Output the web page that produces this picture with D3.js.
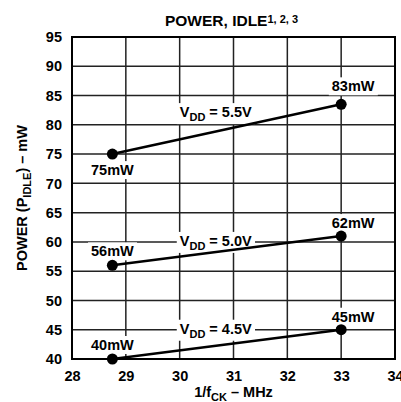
<!DOCTYPE html>
<html lang="en">
<head>
<meta charset="UTF-8">
<title>Power, Idle</title>
<script src="https://cdn.jsdelivr.net/npm/d3@7"></script>
<style>
  body { margin: 0; background: #fff; }
  text { font-family: "Liberation Sans", Arial, sans-serif; font-weight: bold; fill: #000; }
</style>
</head>
<body>
<div id="chart"></div>
<script>
// data
var clock = [28.75, 33];               // 1/fCK (MHz)
var supplies = ["4.5", "5.0", "5.5"];  // VDD
var power45 = [40, 45];
var power50 = [56, 61];
var power55 = [75, 83.5];
var labels45 = ["40mW", "45mW"];
var labels50 = ["56mW", "62mW"];
var labels55 = ["75mW", "83mW"];
var xTicks = [28, 29, 30, 31, 32, 33, 34];
var yTicks = [40, 45, 50, 55, 60, 65, 70, 75, 80, 85, 90, 95];

var width = 401, height = 402;
var margin = {top: 37, right: 6, bottom: 43, left: 72};
var fs = 14.5;

var svg = d3.select("#chart").append("svg")
    .attr("width", width)
    .attr("height", height);

var x = d3.scaleLinear().domain([28, 34]).range([margin.left, width - margin.right]);
var y = d3.scaleLinear().domain([40, 95]).range([height - margin.bottom, margin.top]);

// grid
svg.append("g").selectAll("line").data(xTicks.slice(1, -1)).enter().append("line")
    .attr("x1", function(d) { return x(d); }).attr("x2", function(d) { return x(d); })
    .attr("y1", y(95)).attr("y2", y(40))
    .attr("stroke", "#222").attr("stroke-width", 1.5);
svg.append("g").selectAll("line").data(yTicks.slice(1, -1)).enter().append("line")
    .attr("x1", x(28)).attr("x2", x(34))
    .attr("y1", function(d) { return y(d); }).attr("y2", function(d) { return y(d); })
    .attr("stroke", "#222").attr("stroke-width", 1.5);

// axes tick labels
var xAxis = svg.append("g")
    .attr("transform", "translate(0," + y(40) + ")")
    .call(d3.axisBottom(x).tickValues(xTicks).tickFormat(d3.format("d")).tickSize(0).tickPadding(12));
var yAxis = svg.append("g")
    .attr("transform", "translate(" + x(28) + ",0)")
    .call(d3.axisLeft(y).tickValues(yTicks).tickFormat(d3.format("d")).tickSize(0).tickPadding(10));
[xAxis, yAxis].forEach(function(a) {
    a.select(".domain").remove();
    a.selectAll("text").attr("font-size", fs).attr("font-family", null).attr("fill", "#000");
});

// plot frame
svg.append("rect")
    .attr("x", x(28)).attr("y", y(95))
    .attr("width", x(34) - x(28)).attr("height", y(40) - y(95))
    .attr("fill", "none").attr("stroke", "#000").attr("stroke-width", 2);

// white boxed text helper
function boxed(g, tx, ty, build) {
    var grp = g.append("g");
    var t = grp.append("text").attr("x", tx).attr("y", ty)
        .attr("text-anchor", "middle").attr("font-size", fs);
    build(t);
    var bb = t.node().getBBox();
    grp.insert("rect", "text")
        .attr("x", bb.x - 3).attr("y", bb.y - 1)
        .attr("width", bb.width + 6).attr("height", bb.height + 2)
        .attr("fill", "#fff");
    return grp;
}

var series = [
    {v: supplies[2], p: power55, l: labels55, labelY: 82, off: [16, -18]},
    {v: supplies[1], p: power50, l: labels50, labelY: 60, off: [-14, -13]},
    {v: supplies[0], p: power45, l: labels45, labelY: 45, off: [-14, -13]}
];

var line = d3.line()
    .x(function(d, i) { return x(clock[i]); })
    .y(function(d) { return y(d); });

var labelLayer = svg.append("g");
var markLayer = svg.append("g");

series.forEach(function(s) {
    // VDD label sits on the grid, behind the data line
    boxed(labelLayer, x(30.67), y(s.labelY) + 4, function(t) {
        t.append("tspan").text("V");
        t.append("tspan").attr("font-size", 11).attr("dy", 4).text("DD");
        t.append("tspan").attr("dy", -4).text(" = " + s.v + "V");
    });
    s.p.forEach(function(d, i) {
        var dx = i === 0 ? 0 : 12;
        boxed(labelLayer, x(clock[i]) + dx, y(d) + s.off[i] + 5, function(t) { t.text(s.l[i]); });
    });
    markLayer.append("path").datum(s.p)
        .attr("d", line)
        .attr("fill", "none").attr("stroke", "#000").attr("stroke-width", 2.5);
    markLayer.selectAll(null).data(s.p).enter().append("circle")
        .attr("cx", function(d, i) { return x(clock[i]); })
        .attr("cy", function(d) { return y(d); })
        .attr("r", 5.5).attr("fill", "#000");
});

// title
var title = svg.append("text")
    .attr("x", (x(28) + x(34)) / 2 - 2).attr("y", 26)
    .attr("text-anchor", "middle").attr("font-size", 15.5);
title.append("tspan").text("POWER, IDLE");
title.append("tspan").attr("font-size", 11).attr("dy", -3).text("1, 2, 3");

// x axis title
var xt = svg.append("text")
    .attr("x", (x(28) + x(34)) / 2).attr("y", 397)
    .attr("text-anchor", "middle").attr("font-size", fs);
xt.append("tspan").text("1/f");
xt.append("tspan").attr("font-size", 11).attr("dy", 4).text("CK");
xt.append("tspan").attr("dy", -4).text(" \u2013 MHz");

// y axis title
var yt = svg.append("text")
    .attr("transform", "translate(27," + (y(40) + y(95)) / 2 + ") rotate(-90)")
    .attr("text-anchor", "middle").attr("font-size", fs);
yt.append("tspan").text("POWER (P");
yt.append("tspan").attr("font-size", 11).attr("dy", 4).text("IDLE");
yt.append("tspan").attr("dy", -4).text(") \u2013 mW");
</script>
</body>
</html>
